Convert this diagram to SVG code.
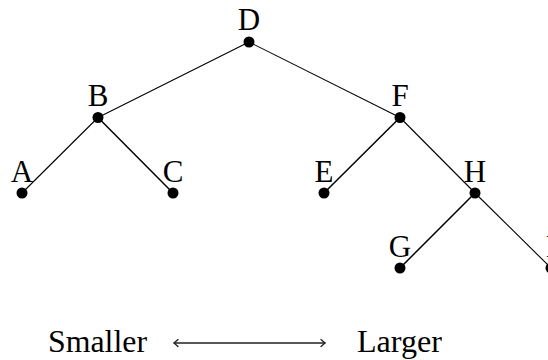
<svg xmlns="http://www.w3.org/2000/svg" width="548" height="360" viewBox="0 0 548 360">
<style>
.lbl{font-family:"Liberation Serif","DejaVu Serif",serif;font-size:31px;fill:#000;text-anchor:middle}
.txt{font-family:"Liberation Serif","DejaVu Serif",serif;font-size:31px;fill:#000}
.dot{fill:#000}
.edge{stroke:#000;stroke-width:1.1;fill:none}
.edge.b{stroke-width:1.5}
.arr{stroke:#222;stroke-width:1.3;fill:none;stroke-linecap:round;stroke-linejoin:round}
</style>
<rect width="548" height="360" fill="#fff"/>
<g id="connectors">
<line class="edge" x1="249" y1="42" x2="98" y2="117.5"/>
<line class="edge" x1="249" y1="42" x2="400" y2="117.5"/>
<line class="edge" x1="98" y1="117.5" x2="22" y2="193"/>
<line class="edge b" x1="98" y1="117.5" x2="173" y2="193"/>
<line class="edge b" x1="400" y1="117.5" x2="324" y2="193"/>
<line class="edge" x1="400" y1="117.5" x2="475" y2="193"/>
<line class="edge b" x1="475" y1="193" x2="400" y2="268"/>
<line class="edge" x1="475" y1="193" x2="551" y2="268"/>
</g>
<g id="D"><circle class="dot" cx="249" cy="42" r="5.5"/><text class="lbl" x="249" y="30">D</text></g>
<g id="B"><circle class="dot" cx="98" cy="117.5" r="5.5"/><text class="lbl" x="98" y="106">B</text></g>
<g id="F"><circle class="dot" cx="400" cy="117.5" r="5.5"/><text class="lbl" x="400" y="106">F</text></g>
<g id="A"><circle class="dot" cx="22" cy="193" r="5.5"/><text class="lbl" x="22" y="182">A</text></g>
<g id="C"><circle class="dot" cx="173" cy="193" r="5.5"/><text class="lbl" x="173" y="182">C</text></g>
<g id="E"><circle class="dot" cx="324" cy="193" r="5.5"/><text class="lbl" x="324" y="182">E</text></g>
<g id="H"><circle class="dot" cx="475" cy="193" r="5.5"/><text class="lbl" x="475" y="182">H</text></g>
<g id="G"><circle class="dot" cx="400" cy="268" r="5.5"/><text class="lbl" x="400" y="257">G</text></g>
<g id="I"><circle class="dot" cx="551" cy="268" r="5.5"/><text class="lbl" x="551" y="257">I</text></g>
<g id="legend">
<text class="txt" x="48" y="352" textLength="99" lengthAdjust="spacingAndGlyphs">Smaller</text>
<line class="arr" x1="174" y1="343" x2="325" y2="343"/>
<polyline class="arr" points="178,339.5 174,343 178,346.5"/>
<polyline class="arr" points="321,339.5 325,343 321,346.5"/>
<text class="txt" x="357" y="352" textLength="85" lengthAdjust="spacingAndGlyphs">Larger</text>
</g>
</svg>
